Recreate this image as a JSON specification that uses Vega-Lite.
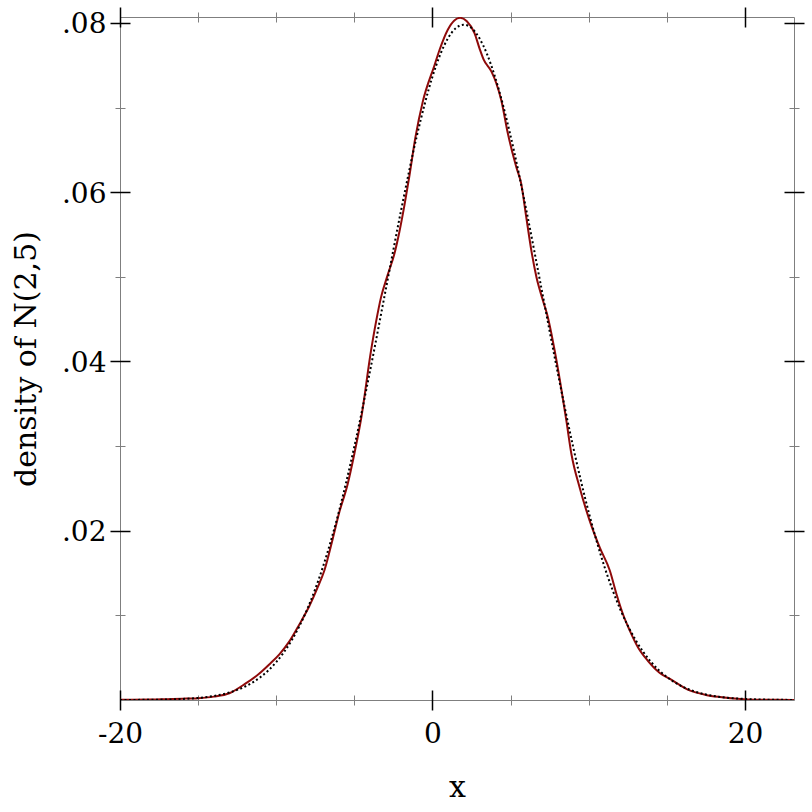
{
  "$schema": "https://vega.github.io/schema/vega-lite/v6.json",
  "width": 674,
  "height": 683,
  "autosize": "none",
  "padding": {"left": 120, "top": 17, "right": 18, "bottom": 112},
  "background": "white",
  "config": {
    "view": {"stroke": "#7f7f7f", "strokeWidth": 1},
    "axis": {
      "domain": false,
      "grid": false,
      "labelFlush": false,
      "labelOverlap": false,
      "labelFont": "DejaVu Serif",
      "labelFontSize": 28,
      "labelColor": "black",
      "titleFont": "DejaVu Serif",
      "titleFontSize": 30,
      "titleFontWeight": "normal",
      "titleColor": "black"
    }
  },
  "datasets": {
    "kde": [
      {"x": -20, "y": 0.00002}, {"x": -18, "y": 0.00005}, {"x": -17, "y": 0.0001},
      {"x": -16, "y": 0.00015}, {"x": -15, "y": 0.00022}, {"x": -14, "y": 0.0004},
      {"x": -13, "y": 0.0008}, {"x": -12, "y": 0.0019}, {"x": -11.1, "y": 0.0031},
      {"x": -10.45, "y": 0.0042}, {"x": -9.8, "y": 0.0054}, {"x": -9.17, "y": 0.0069},
      {"x": -8.53, "y": 0.0089}, {"x": -7.88, "y": 0.0111}, {"x": -7.35, "y": 0.0133},
      {"x": -6.92, "y": 0.0153}, {"x": -6.39, "y": 0.019}, {"x": -5.96, "y": 0.0222},
      {"x": -5.43, "y": 0.0255}, {"x": -5.0, "y": 0.0291}, {"x": -4.57, "y": 0.0332},
      {"x": -3.93, "y": 0.0413}, {"x": -3.61, "y": 0.0447}, {"x": -3.29, "y": 0.0476},
      {"x": -2.87, "y": 0.0502}, {"x": -2.44, "y": 0.0527}, {"x": -2.12, "y": 0.0553},
      {"x": -1.79, "y": 0.0585}, {"x": -1.47, "y": 0.062}, {"x": -1.09, "y": 0.0665},
      {"x": -0.62, "y": 0.0707}, {"x": 0.13, "y": 0.075}, {"x": 0.45, "y": 0.0768},
      {"x": 0.98, "y": 0.0792}, {"x": 1.4, "y": 0.0803}, {"x": 1.77, "y": 0.0806},
      {"x": 2.2, "y": 0.0802}, {"x": 2.69, "y": 0.0788}, {"x": 3.01, "y": 0.077},
      {"x": 3.27, "y": 0.0757}, {"x": 3.76, "y": 0.0743}, {"x": 4.08, "y": 0.0729},
      {"x": 4.4, "y": 0.0709}, {"x": 4.83, "y": 0.0669}, {"x": 5.36, "y": 0.063},
      {"x": 5.68, "y": 0.061}, {"x": 6.0, "y": 0.0571}, {"x": 6.33, "y": 0.0531},
      {"x": 6.65, "y": 0.05}, {"x": 7.07, "y": 0.0472}, {"x": 7.39, "y": 0.0452},
      {"x": 7.61, "y": 0.0433}, {"x": 7.82, "y": 0.0413}, {"x": 8.57, "y": 0.033},
      {"x": 8.89, "y": 0.0291}, {"x": 9.42, "y": 0.0251}, {"x": 10.06, "y": 0.0212},
      {"x": 10.71, "y": 0.018}, {"x": 11.35, "y": 0.0153}, {"x": 11.78, "y": 0.0125},
      {"x": 12.2, "y": 0.0101}, {"x": 12.63, "y": 0.0082}, {"x": 13.16, "y": 0.0062},
      {"x": 13.8, "y": 0.0046}, {"x": 14.55, "y": 0.0032}, {"x": 15.2, "y": 0.0025},
      {"x": 16.5, "y": 0.0011}, {"x": 17.5, "y": 0.0006}, {"x": 18.4, "y": 0.00035},
      {"x": 19.9, "y": 0.0001}, {"x": 21, "y": 0.00004}, {"x": 23.14, "y": 0.00001}
    ],
    "normal": [
      {"x": -20, "y": 0.000005}, {"x": -18, "y": 0.000027}, {"x": -16, "y": 0.000122},
      {"x": -15, "y": 0.000246}, {"x": -14, "y": 0.000477}, {"x": -13, "y": 0.000887},
      {"x": -12, "y": 0.001583}, {"x": -11, "y": 0.002717}, {"x": -10, "y": 0.004479},
      {"x": -9, "y": 0.007095}, {"x": -8, "y": 0.010798}, {"x": -7, "y": 0.01579},
      {"x": -6, "y": 0.022184}, {"x": -5, "y": 0.029945}, {"x": -4, "y": 0.038837},
      {"x": -3, "y": 0.048394}, {"x": -2, "y": 0.057938}, {"x": -1, "y": 0.066644},
      {"x": 0, "y": 0.073654}, {"x": 0.5, "y": 0.07628}, {"x": 1, "y": 0.078208},
      {"x": 1.5, "y": 0.07939}, {"x": 2, "y": 0.079788}, {"x": 2.5, "y": 0.07939},
      {"x": 3, "y": 0.078208}, {"x": 3.5, "y": 0.07628}, {"x": 4, "y": 0.073654},
      {"x": 5, "y": 0.066644}, {"x": 6, "y": 0.057938}, {"x": 7, "y": 0.048394},
      {"x": 8, "y": 0.038837}, {"x": 9, "y": 0.029945}, {"x": 10, "y": 0.022184},
      {"x": 11, "y": 0.01579}, {"x": 12, "y": 0.010798}, {"x": 13, "y": 0.007095},
      {"x": 14, "y": 0.004479}, {"x": 15, "y": 0.002717}, {"x": 16, "y": 0.001583},
      {"x": 17, "y": 0.000887}, {"x": 18, "y": 0.000477}, {"x": 19, "y": 0.000246},
      {"x": 20, "y": 0.000122}, {"x": 22, "y": 0.000027}, {"x": 23.14, "y": 0.0000105}
    ]
  },
  "resolve": {"axis": {"x": "independent", "y": "independent"}},
  "layer": [
    {
      "data": {"name": "kde"},
      "mark": {"type": "line", "color": "#8f0a0a", "strokeWidth": 2, "interpolate": "monotone", "clip": true},
      "encoding": {
        "x": {"field": "x", "type": "quantitative",
          "scale": {"domain": [-20, 23.14], "nice": false, "zero": false},
          "axis": {"orient": "bottom", "values": [-20, 0, 20], "tickSize": 20, "offset": -10,
            "tickColor": "black", "tickWidth": 1.5, "labelPadding": 10,
            "labelExpr": "datum.value < 0 ? '-' + abs(datum.value) : '' + datum.value",
            "title": "x", "titlePadding": 24}},
        "y": {"field": "y", "type": "quantitative",
          "scale": {"domain": [0, 0.0807], "nice": false, "zero": false},
          "axis": {"orient": "left", "values": [0.02, 0.04, 0.06, 0.08], "tickSize": 20, "offset": -10,
            "tickColor": "black", "tickWidth": 1.5, "labelPadding": 4, "labelOffset": 2,
            "labelExpr": "substring(format(datum.value, '.2f'), 1)",
            "title": "density of N(2,5)", "titlePadding": 20}}
      }
    },
    {
      "data": {"name": "normal"},
      "mark": {"type": "line", "color": "black", "strokeWidth": 2, "strokeDash": [2, 2.5], "interpolate": "monotone", "clip": true},
      "encoding": {
        "x": {"field": "x", "type": "quantitative",
          "axis": {"orient": "bottom", "values": [-15, -10, -5, 5, 10, 15], "tickSize": 10, "offset": -5,
            "tickColor": "#7f7f7f", "tickWidth": 1, "labels": false, "title": null}},
        "y": {"field": "y", "type": "quantitative",
          "axis": {"orient": "left", "values": [0.01, 0.03, 0.05, 0.07], "tickSize": 10, "offset": -5,
            "tickColor": "#7f7f7f", "tickWidth": 1, "labels": false, "title": null}}
      }
    },
    {
      "data": {"name": "normal"},
      "mark": {"type": "line", "strokeOpacity": 0},
      "encoding": {
        "x": {"field": "x", "type": "quantitative",
          "axis": {"orient": "top", "values": [-20, 0, 20], "tickSize": 20, "offset": -10,
            "tickColor": "black", "tickWidth": 1.5, "labels": false, "title": null}},
        "y": {"field": "y", "type": "quantitative",
          "axis": {"orient": "right", "values": [0.02, 0.04, 0.06, 0.08], "tickSize": 20, "offset": -10,
            "tickColor": "black", "tickWidth": 1.5, "labels": false, "title": null}}
      }
    },
    {
      "data": {"name": "normal"},
      "mark": {"type": "line", "strokeOpacity": 0},
      "encoding": {
        "x": {"field": "x", "type": "quantitative",
          "axis": {"orient": "top", "values": [-15, -10, -5, 5, 10, 15], "tickSize": 10, "offset": -5,
            "tickColor": "#7f7f7f", "tickWidth": 1, "labels": false, "title": null}},
        "y": {"field": "y", "type": "quantitative",
          "axis": {"orient": "right", "values": [0.01, 0.03, 0.05, 0.07], "tickSize": 10, "offset": -5,
            "tickColor": "#7f7f7f", "tickWidth": 1, "labels": false, "title": null}}
      }
    }
  ]
}
